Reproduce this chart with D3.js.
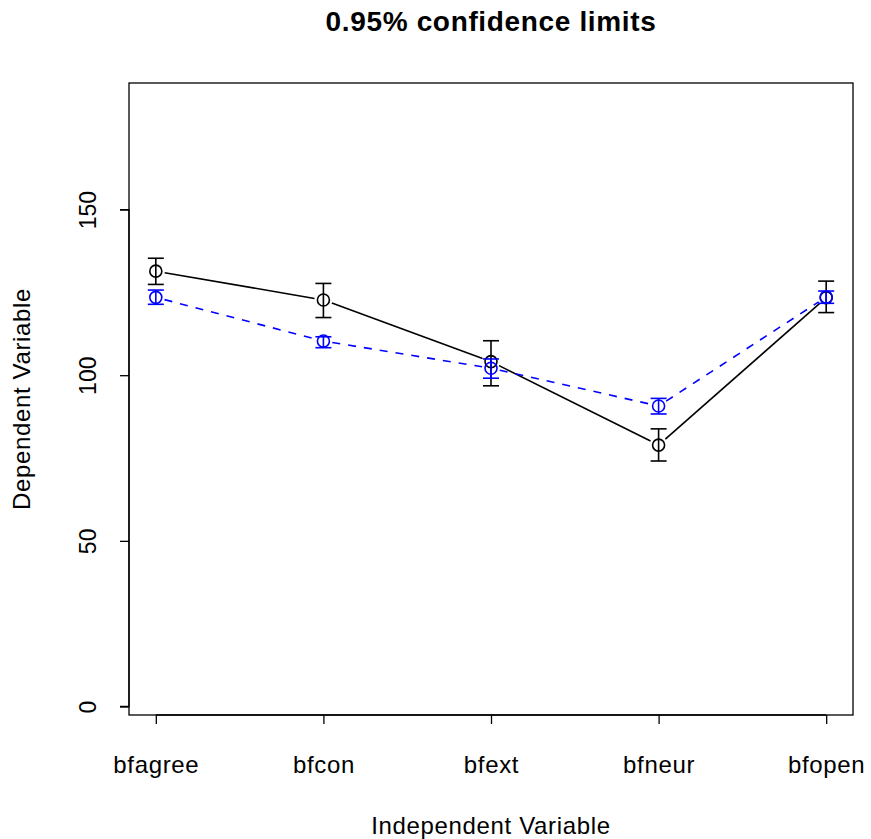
<!DOCTYPE html>
<html>
<head>
<meta charset="utf-8">
<script src="https://cdn.jsdelivr.net/npm/d3@7"></script>
<style>
  html, body { margin: 0; padding: 0; background: #fff; }
  svg text { font-family: "Liberation Sans", Arial, Helvetica, sans-serif; }
</style>
</head>
<body>
<svg id="chart" width="871" height="839"></svg>
<script>
// Factor levels on the x axis
const categories = ["bfagree", "bfcon", "bfext", "bfneur", "bfopen"];

// Group 1 (black, solid): means and 95% limits
const meanA  = [131.4, 122.7, 104.1, 78.9, 123.4];
const lowerA = [127.4, 117.4, 96.8, 74.1, 118.9];
const upperA = [135.3, 127.7, 110.4, 83.8, 128.4];

// Group 2 (blue, dashed): means and 95% limits
const meanB  = [123.5, 110.3, 102.1, 90.7, 123.6];
const lowerB = [121.4, 108.3, 99.1, 88.3, 121.7];
const upperB = [125.7, 111.6, 104.9, 93.0, 125.4];

const yTicks = [0, 50, 100, 150];

const svg = d3.select("#chart");
const box = { left: 129, right: 853, top: 83, bottom: 715 };
const spacing = "0.65px";

// x: positions 1..5 with 4% padding on each side
const x = d3.scaleLinear().domain([0.84, 5.16]).range([box.left, box.right]);
const y = d3.scaleLinear().domain([-2.57, 188.2]).range([box.bottom, box.top]);

// plot frame
svg.append("rect")
  .attr("x", box.left).attr("y", box.top)
  .attr("width", box.right - box.left).attr("height", box.bottom - box.top)
  .attr("fill", "none").attr("stroke", "#000").attr("stroke-width", 1.3);

// y axis
const yAxis = d3.axisLeft(y).tickValues(yTicks).tickSize(9).tickFormat(d3.format("d"));
const gy = svg.append("g").attr("transform", `translate(${box.left},0)`).call(yAxis);
gy.select(".domain").attr("d", `M-9,${y(0)}H0V${y(150)}H-9`).attr("stroke-width", 1.3);
gy.selectAll(".tick line").attr("stroke-width", 1.3);
gy.selectAll(".tick text")
  .attr("font-size", 23).attr("fill", "#000")
  .attr("transform", "rotate(-90)")
  .attr("x", 0).attr("y", -33).attr("dy", 0)
  .attr("text-anchor", "middle");

// x axis
const xAxis = d3.axisBottom(x).tickValues(d3.range(1, categories.length + 1))
  .tickSize(9).tickFormat(i => categories[i - 1]);
const gx = svg.append("g").attr("transform", `translate(0,${box.bottom})`).call(xAxis);
gx.select(".domain").attr("d", `M${x(1)},0H${x(5)}`).attr("stroke-width", 1.3);
gx.selectAll(".tick line").attr("stroke-width", 1.3);
gx.selectAll(".tick text").attr("font-size", 24).attr("fill", "#000")
  .attr("letter-spacing", spacing)
  .attr("y", 58).attr("dy", 0);

// titles
svg.append("text").attr("x", (box.left + box.right) / 2).attr("y", 31)
  .attr("text-anchor", "middle").attr("font-size", 28).attr("font-weight", "bold")
  .attr("letter-spacing", spacing)
  .text("0.95% confidence limits");
svg.append("text").attr("x", (box.left + box.right) / 2).attr("y", 834)
  .attr("text-anchor", "middle").attr("font-size", 24)
  .attr("letter-spacing", spacing)
  .text("Independent Variable");
svg.append("text").attr("transform", `translate(30,${(box.top + box.bottom) / 2}) rotate(-90)`)
  .attr("text-anchor", "middle").attr("font-size", 24)
  .attr("letter-spacing", spacing)
  .text("Dependent Variable");

// one series: connecting segments with gaps around points, error bars, open circles
function drawSeries(means, lo, hi, color, dash) {
  const g = svg.append("g");
  const pts = means.map((m, i) => [x(i + 1), y(m)]);
  const gap = 9;
  for (let i = 0; i < pts.length - 1; i++) {
    const [x0, y0] = pts[i], [x1, y1] = pts[i + 1];
    const len = Math.hypot(x1 - x0, y1 - y0);
    const ux = (x1 - x0) / len, uy = (y1 - y0) / len;
    g.append("line")
      .attr("x1", x0 + ux * gap).attr("y1", y0 + uy * gap)
      .attr("x2", x1 - ux * gap).attr("y2", y1 - uy * gap)
      .attr("stroke", color).attr("stroke-width", 1.6)
      .attr("stroke-dasharray", dash);
  }
  means.forEach((m, i) => {
    const cx = x(i + 1);
    g.append("line").attr("x1", cx).attr("x2", cx)
      .attr("y1", y(lo[i])).attr("y2", y(hi[i]))
      .attr("stroke", color).attr("stroke-width", 1.6);
    [lo[i], hi[i]].forEach(v => {
      g.append("line").attr("x1", cx - 8).attr("x2", cx + 8)
        .attr("y1", y(v)).attr("y2", y(v))
        .attr("stroke", color).attr("stroke-width", 1.6);
    });
    g.append("circle").attr("cx", cx).attr("cy", y(m)).attr("r", 6)
      .attr("fill", "none").attr("stroke", color).attr("stroke-width", 1.6);
  });
}

drawSeries(meanA, lowerA, upperA, "#000", null);
drawSeries(meanB, lowerB, upperB, "#0000ff", "8,8");
</script>
</body>
</html>
